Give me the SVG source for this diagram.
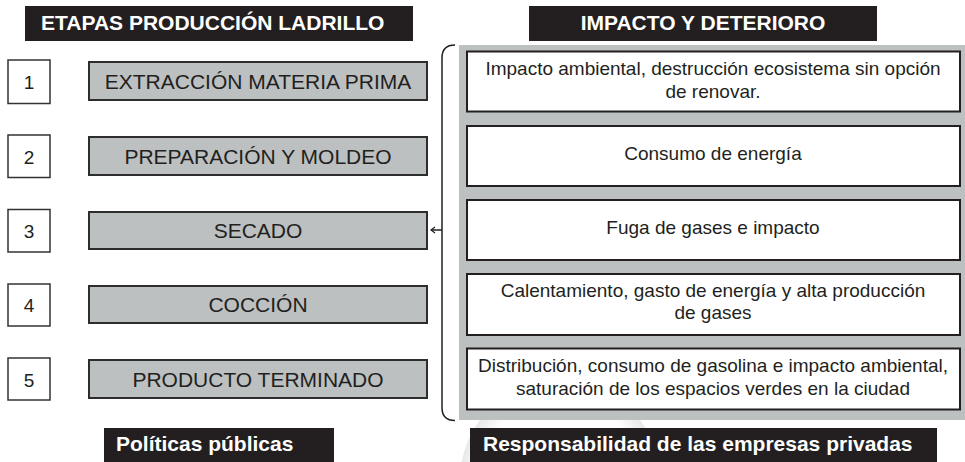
<svg xmlns="http://www.w3.org/2000/svg" width="965" height="462" viewBox="0 0 965 462">
<defs>
<style>
.hdr{fill:#231f20}
.hdrt{font-family:"Liberation Sans",Arial,sans-serif;font-weight:bold;font-size:21px;fill:#ffffff}
.num{fill:#ffffff;stroke:#333333;stroke-width:1.5}
.numt{font-family:"Liberation Sans",Arial,sans-serif;font-size:19px;fill:#231f20;text-anchor:middle}
.stage{fill:#bcc0c0;stroke:#2d2d2d;stroke-width:2}
.staget{font-family:"Liberation Sans",Arial,sans-serif;font-size:21px;fill:#231f20;text-anchor:middle}
.imp{fill:#ffffff;stroke:#231f20;stroke-width:2}
.impt{font-family:"Liberation Sans",Arial,sans-serif;font-size:19px;fill:#231f20;text-anchor:middle}
.conn{fill:none;stroke:#231f20;stroke-width:1.5}
</style>
<marker id="arr" markerWidth="8" markerHeight="8" refX="5" refY="4" orient="auto" markerUnits="userSpaceOnUse">
<path d="M1,1 L5,4 L1,7" fill="none" stroke="#231f20" stroke-width="1.2"/>
</marker>
<radialGradient id="wm" cx="0.5" cy="0.5" r="0.5">
<stop offset="0.8" stop-color="#ffffff"/>
<stop offset="1" stop-color="#e8e8e8"/>
</radialGradient>
</defs>
<rect width="965" height="462" fill="#ffffff"/>
<circle cx="560" cy="480" r="100" fill="url(#wm)"/>

<g id="header-etapas">
<rect class="hdr" x="25" y="6" width="388" height="35"/>
<text class="hdrt" x="41" y="29.5">ETAPAS PRODUCCIÓN LADRILLO</text>
</g>
<g id="header-impacto">
<rect class="hdr" x="529" y="6" width="348" height="35"/>
<text class="hdrt" x="703" y="29.5" text-anchor="middle">IMPACTO Y DETERIORO</text>
</g>

<g id="stage-1">
<rect class="num" x="8" y="60" width="42" height="43.5"/>
<text class="numt" x="29" y="89">1</text>
<rect class="stage" x="89" y="62" width="338" height="38"/>
<text class="staget" x="258" y="88.5">EXTRACCIÓN MATERIA PRIMA</text>
</g>
<g id="stage-2">
<rect class="num" x="8" y="135" width="42" height="42.5"/>
<text class="numt" x="29" y="163.5">2</text>
<rect class="stage" x="89" y="137" width="338" height="38"/>
<text class="staget" x="258" y="163.5">PREPARACIÓN Y MOLDEO</text>
</g>
<g id="stage-3">
<rect class="num" x="8" y="209.5" width="42" height="42.5"/>
<text class="numt" x="29" y="238">3</text>
<rect class="stage" x="89" y="212" width="338" height="37"/>
<text class="staget" x="258" y="238">SECADO</text>
</g>
<g id="stage-4">
<rect class="num" x="8" y="284" width="42" height="42"/>
<text class="numt" x="29" y="312">4</text>
<rect class="stage" x="89" y="286" width="338" height="37"/>
<text class="staget" x="258" y="312">COCCIÓN</text>
</g>
<g id="stage-5">
<rect class="num" x="8" y="358" width="42" height="42"/>
<text class="numt" x="29" y="386.5">5</text>
<rect class="stage" x="89" y="360" width="338" height="38"/>
<text class="staget" x="258" y="386.5">PRODUCTO TERMINADO</text>
</g>

<g id="impact-panel">
<rect x="459" y="45" width="510" height="375" fill="#bcc0c0"/>
</g>
<g id="impact-1">
<rect class="imp" x="467" y="51.5" width="493" height="60"/>
<text class="impt" x="713" y="74.5">Impacto ambiental, destrucción ecosistema sin opción</text>
<text class="impt" x="713" y="97.5">de renovar.</text>
</g>
<g id="impact-2">
<rect class="imp" x="467" y="126" width="493" height="60"/>
<text class="impt" x="713" y="160">Consumo de energía</text>
</g>
<g id="impact-3">
<rect class="imp" x="467" y="200" width="493" height="60"/>
<text class="impt" x="713" y="234">Fuga de gases e impacto</text>
</g>
<g id="impact-4">
<rect class="imp" x="467" y="274" width="493" height="61"/>
<text class="impt" x="713" y="296.5">Calentamiento, gasto de energía y alta producción</text>
<text class="impt" x="713" y="319">de gases</text>
</g>
<g id="impact-5">
<rect class="imp" x="467" y="348.5" width="493" height="61"/>
<text class="impt" x="713" y="372">Distribución, consumo de gasolina e impacto ambiental,</text>
<text class="impt" x="713" y="395">saturación de los espacios verdes en la ciudad</text>
</g>

<g id="connectors">
<path class="conn" d="M455,45 Q442,45 442,58 L442,407.5 Q442,420.5 455,420.5"/>
<line class="conn" x1="442" y1="230" x2="431" y2="230" marker-end="url(#arr)"/>
</g>

<g id="footer-politicas">
<rect class="hdr" x="104" y="428" width="230" height="34"/>
<text class="hdrt" x="116" y="451">Políticas públicas</text>
</g>
<g id="footer-responsabilidad">
<rect class="hdr" x="470" y="428" width="467" height="34"/>
<text class="hdrt" x="483" y="450.5">Responsabilidad de las empresas privadas</text>
</g>
</svg>
